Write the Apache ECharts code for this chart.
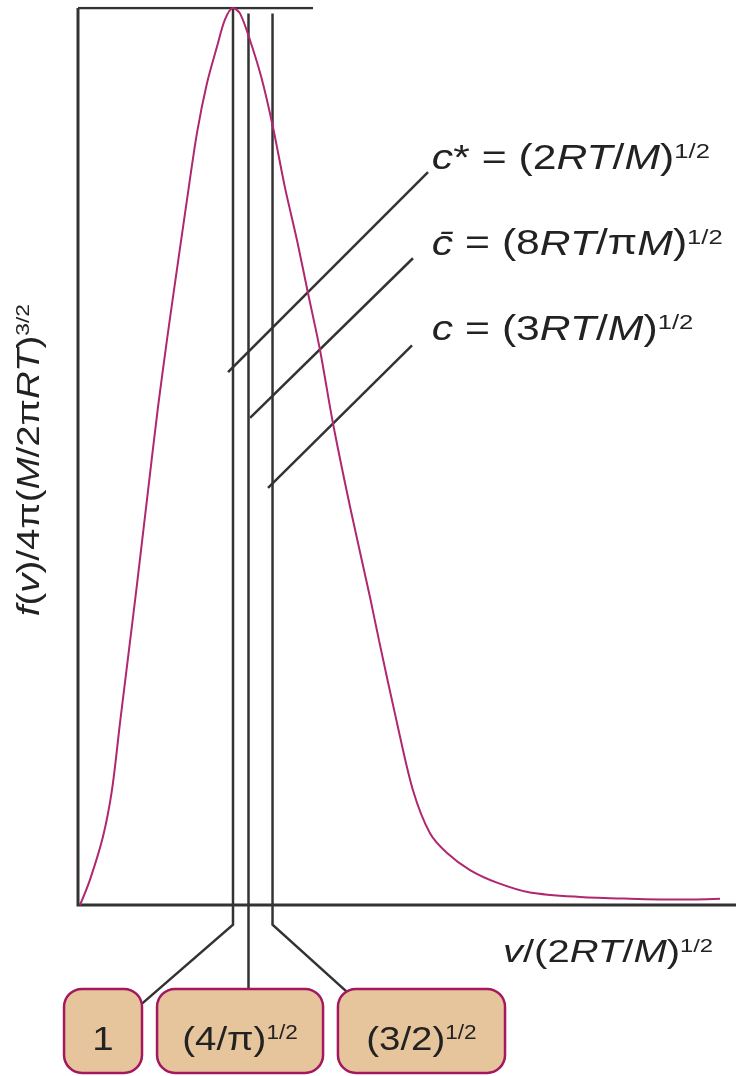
<!DOCTYPE html>
<html>
<head>
<meta charset="utf-8">
<script src="https://cdn.jsdelivr.net/npm/echarts@6/dist/echarts.min.js"></script>
<style>
html,body{margin:0;padding:0;background:#fff;}
#chart{width:736px;height:1076px;}
</style>
</head>
<body>
<div id="chart"></div>
<script>
// ---- data (x in units of (2RT/M)^1/2, y relative to peak) ----
const curveX = [0.013,0.077,0.161,0.219,0.271,0.323,0.381,0.445,0.516,0.574,0.613,0.703,0.768,0.832,0.897,0.948,1.000,1.045,1.110,1.187,1.258,1.335,1.413,1.484,1.561,1.645,1.755,1.884,1.942,2.058,2.161,2.271,2.381,2.529,2.703,2.916,3.239,3.561,3.884,4.142];
const curveY = [0.000,0.028,0.076,0.128,0.203,0.276,0.358,0.452,0.555,0.630,0.678,0.786,0.861,0.916,0.957,0.987,1.000,0.994,0.964,0.920,0.867,0.800,0.741,0.682,0.619,0.537,0.444,0.343,0.295,0.203,0.128,0.080,0.058,0.039,0.025,0.014,0.009,0.007,0.006,0.007];
// positions of the three characteristic speeds (c*, c-bar, c) as drawn
const speedX = [1.0, 1.10, 1.255];
const speedLabels = ['1', '(4/π){s|1/2}', '(3/2){s|1/2}'];
const formulaLabels = [
  '{i|c}* = (2{i|RT}/{i|M}){s|1/2}',
  '{i|c\u0304} = (8{i|RT}/π{i|M}){s|1/2}',
  '{i|c} = (3{i|RT}/{i|M}){s|1/2}'
];
const xAxisTitle = '{i|v}/(2{i|RT}/{i|M}){s|1/2}';
const yAxisTitle = '{i|f}({i|v})/4π({i|M}/2π{i|RT}){s|3/2}';

// ---- layout (data-coordinate placement of annotations) ----
const X_MIN = -78/155, X_MAX = 658/155, Y_MIN = -0.19, Y_MAX = 1.0;
const TOP_LINE_END = 1.516;
const speedTop = [1.0, 0.994, 0.994];
const KNEE_Y = -0.022;
const boxTop = -0.0936, boxBottom = -0.1873, boxTextY = -0.151;
const boxes = [[-0.090, 0.413], [0.510, 1.581], [1.677, 2.755]];
const boxAttach = [[0.413, -0.110], null, [1.742, -0.098]];
const leaders = [[[0.968,0.594],[2.258,0.817]], [[1.110,0.543],[2.161,0.721]], [[1.226,0.465],[2.155,0.624]]];
const formulaPos = [[2.283,0.831],[2.283,0.736],[2.283,0.641]];
const xTitlePos = [2.742, -0.054];
const yTitlePos = [-0.310, 0.496];

const FF = '"Liberation Sans", Arial, sans-serif';
function rich(fs){
  return {
    i:{fontStyle:'italic', fontSize:fs, fontFamily:FF, fill:'#222'},
    s:{fontSize:Math.round(fs*0.6), fontFamily:FF, fill:'#222', verticalAlign:'top', lineHeight:fs}
  };
}
function txt(p, text, fs, sx, align, rot){
  return {type:'text', x:p[0], y:p[1], rotation:rot||0, scaleX:sx, scaleY:1,
    style:{text:text, fontSize:fs, fontFamily:FF, fill:'#222', align:align, verticalAlign:'middle', rich:rich(fs)}};
}

const curve = curveX.map((x,i)=>[x, curveY[i]]);

const frameLines = [
  {coords:[[0,Y_MAX],[0,0],[X_MAX,0]], lineStyle:{width:3}},
  {coords:[[0,Y_MAX],[TOP_LINE_END,Y_MAX]]}
];
speedX.forEach((x,i)=>{
  const pts = [[x, speedTop[i]]];
  if (boxAttach[i]) { pts.push([x, KNEE_Y]); pts.push(boxAttach[i]); }
  else pts.push([x, boxTop]);
  frameLines.push({coords: pts});
});
leaders.forEach(l=>frameLines.push({coords:l}));

const chart = echarts.init(document.getElementById('chart'), null, {renderer:'canvas'});
chart.setOption({
  animation:false,
  backgroundColor:'#fff',
  grid:{left:0, right:0, top:8, bottom:1076-8-(Y_MAX-Y_MIN)*897},
  xAxis:{type:'value', min:X_MIN, max:X_MAX, show:false},
  yAxis:{type:'value', min:Y_MIN, max:Y_MAX, show:false},
  series:[
    {
      type:'lines', coordinateSystem:'cartesian2d', polyline:true, silent:true,
      lineStyle:{color:'#333', width:2.5, opacity:1},
      data: frameLines, z:2
    },
    {
      type:'line', data: curve, showSymbol:false, smooth:0.3,
      lineStyle:{color:'#B0276F', width:2}, z:3
    },
    {
      type:'custom', data: boxes.map((b,i)=>[b[0], b[1], i]), z:4,
      renderItem:function(params, api){
        const i = api.value(2);
        const p1 = api.coord([api.value(0), boxTop]);
        const p2 = api.coord([api.value(1), boxBottom]);
        const pt = api.coord([0, boxTextY]);
        return {type:'group', children:[
          {type:'rect', shape:{x:p1[0], y:p1[1], width:p2[0]-p1[0], height:p2[1]-p1[1], r:18},
           style:{fill:'#E6C59C', stroke:'#A3185F', lineWidth:2.5}},
          txt([(p1[0]+p2[0])/2, pt[1]], speedLabels[i], 34, 1.13, 'center')
        ]};
      }
    },
    {
      type:'custom', data: formulaPos.map((p,i)=>[p[0], p[1], i]), z:5,
      renderItem:function(params, api){
        const i = api.value(2);
        const p = api.coord([api.value(0), api.value(1)]);
        return txt(p, formulaLabels[i], 35, 1.22, 'left');
      }
    },
    {
      type:'custom', data:[[xTitlePos[0], xTitlePos[1], 0],[yTitlePos[0], yTitlePos[1], 1]], z:5,
      renderItem:function(params, api){
        const i = api.value(2);
        const p = api.coord([api.value(0), api.value(1)]);
        return i===0 ? txt(p, xAxisTitle, 32, 1.25, 'left') : txt(p, yAxisTitle, 32, 1.2, 'center', Math.PI/2);
      }
    }
  ]
});
</script>
</body>
</html>
